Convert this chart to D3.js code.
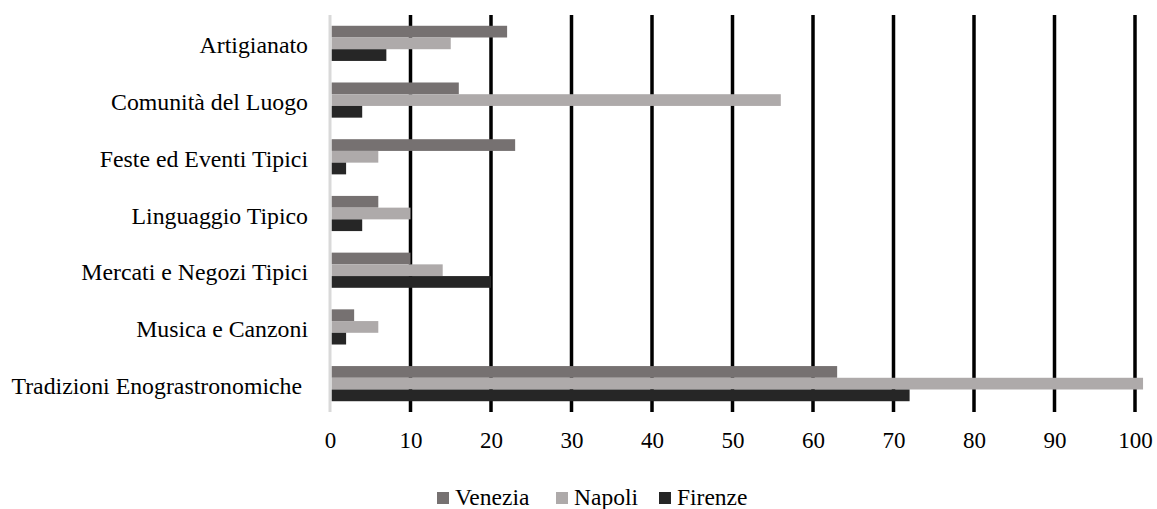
<!DOCTYPE html>
<html>
<head>
<meta charset="utf-8">
<script src="https://cdn.jsdelivr.net/npm/d3@7"></script>
<style>
  html, body { margin: 0; padding: 0; background: #fff; }
</style>
</head>
<body>
<svg id="chart" width="1157" height="509"></svg>
<script>
const categories = ["Artigianato", "Comunità del Luogo", "Feste ed Eventi Tipici", "Linguaggio Tipico", "Mercati e Negozi Tipici", "Musica e Canzoni", "Tradizioni Enograstronomiche"];
const seriesNames = ["Venezia", "Napoli", "Firenze"];
const venezia = [22, 16, 23, 6, 10, 3, 63];
const napoli = [15, 56, 6, 10, 14, 6, 101];
const firenze = [7, 4, 2, 4, 20, 2, 72];
const xTicks = [0, 10, 20, 30, 40, 50, 60, 70, 80, 90, 100];
const colors = ["#767171", "#aeaaaa", "#262626"];

const FONT = "Liberation Serif";
const series = [venezia, napoli, firenze];
const svg = d3.select("#chart");
const plotLeft = 330, plotRight = 1135, plotTop = 15, plotBottom = 412;

const x = d3.scaleLinear().domain([0, 100]).range([plotLeft, plotRight]);
const y = d3.scaleBand().domain(categories).range([plotTop, plotBottom]).paddingInner(0.38).paddingOuter(0.19);
const ySub = d3.scaleBand().domain(seriesNames).range([0, y.bandwidth()]);

// gridlines
svg.append("g").selectAll("line").data(xTicks.filter(d => d > 0)).join("line")
  .attr("x1", d => x(d)).attr("x2", d => x(d))
  .attr("y1", plotTop).attr("y2", plotBottom)
  .attr("stroke", "#000").attr("stroke-width", 3.5);

// bars
const groups = svg.append("g").selectAll("g").data(categories).join("g")
  .attr("transform", c => `translate(0,${y(c)})`);
groups.selectAll("rect").data((c, i) => seriesNames.map((s, j) => ({ s, v: series[j][i], j }))).join("rect")
  .attr("x", x(0) + 1.5)
  .attr("y", d => ySub(d.s))
  .attr("width", d => x(d.v) - x(0) - 1.5)
  .attr("height", ySub.bandwidth())
  .attr("fill", d => colors[d.j]);

// zero axis line
svg.append("line")
  .attr("x1", x(0)).attr("x2", x(0)).attr("y1", plotTop).attr("y2", plotBottom)
  .attr("stroke", "#d9d9d9").attr("stroke-width", 3);

// x tick labels
const xAxis = d3.axisBottom(x).tickValues(xTicks).tickSize(0).tickPadding(0);
const xg = svg.append("g").attr("transform", `translate(0,${plotBottom})`).call(xAxis)
  .attr("font-family", FONT).attr("font-size", 23);
xg.select(".domain").remove();
xg.selectAll("text")
  .attr("y", 36).attr("dy", null)
  .attr("font-family", FONT).attr("font-size", 23)
  .attr("fill", "#000");

// category labels
const yAxis = d3.axisLeft(y).tickSize(0).tickPadding(22);
const yg = svg.append("g").attr("transform", `translate(${plotLeft},0)`).call(yAxis)
  .attr("font-family", FONT).attr("font-size", 23.8);
yg.select(".domain").remove();
yg.selectAll("text")
  .attr("dy", "0.42em")
  .attr("font-family", FONT).attr("font-size", 23.8)
  .attr("xml:space", "preserve")
  .style("white-space", "pre")
  .attr("fill", "#000")
  .text(d => d === "Tradizioni Enograstronomiche" ? d + " " : d);

// legend
const legendX = [437, 556, 659];
const lg = svg.append("g").selectAll("g").data(seriesNames).join("g")
  .attr("transform", (d, i) => `translate(${legendX[i]},0)`);
lg.append("rect").attr("x", 0).attr("y", 492).attr("width", 12).attr("height", 12)
  .attr("fill", (d, i) => colors[i]);
lg.append("text").attr("x", 18).attr("y", 505)
  .attr("font-family", FONT).attr("font-size", 23.5).attr("fill", "#000")
  .text(d => d);
</script>
</body>
</html>
